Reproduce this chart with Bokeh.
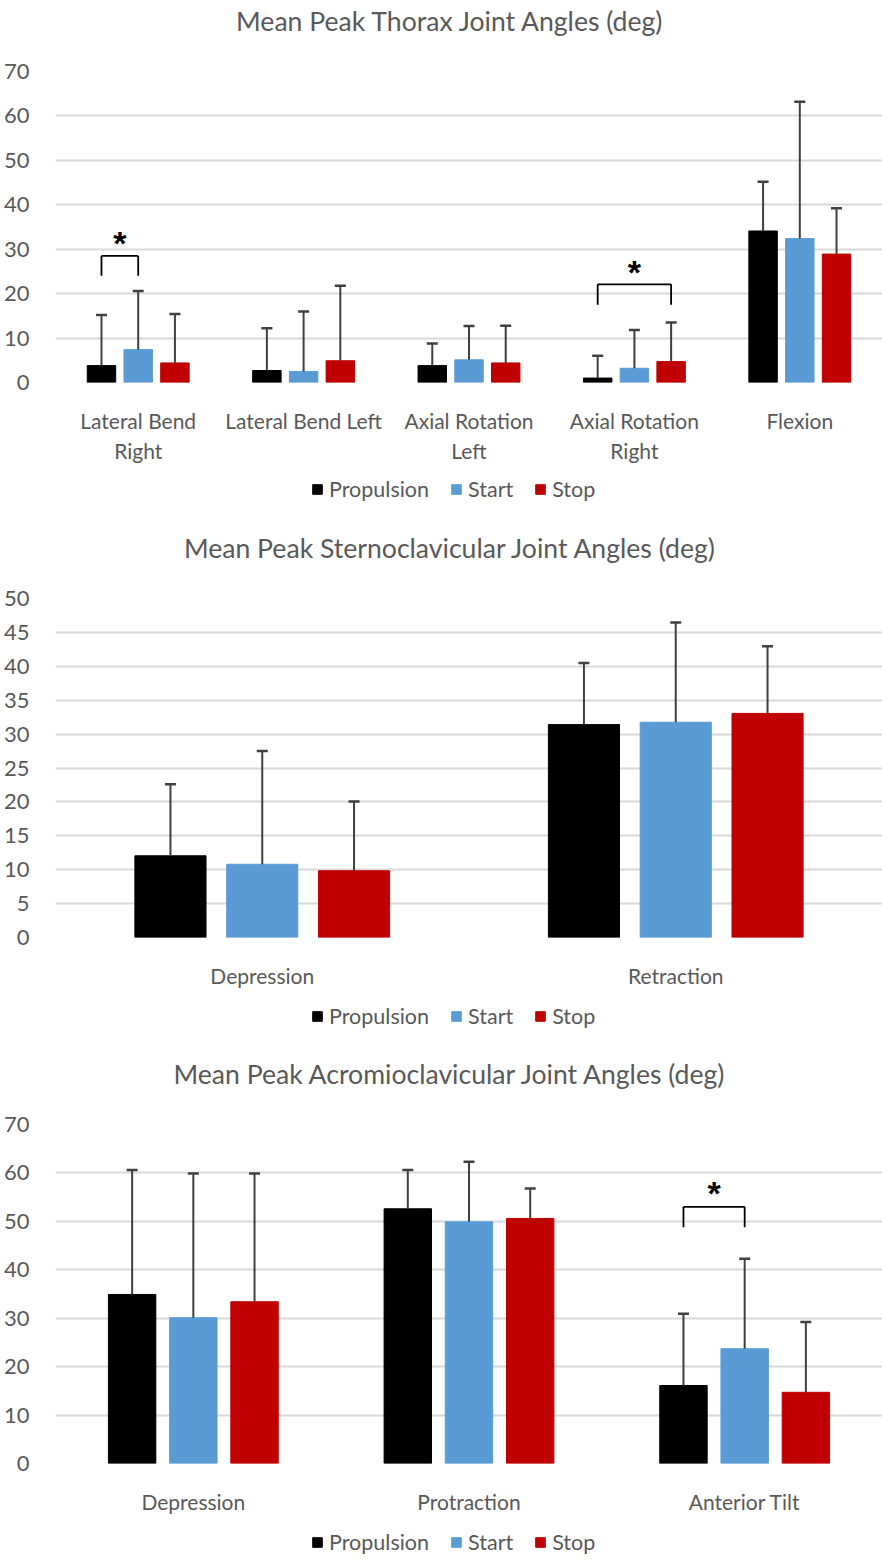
import numpy as np
from bokeh.plotting import figure
from bokeh.models import Range1d, FixedTicker, Legend, LegendItem, ColumnDataSource, Label
from bokeh.layouts import column
from bokeh.embed import file_html
from bokeh.resources import INLINE

# ---------------- data ----------------
series_names = ["Propulsion", "Start", "Stop"]
series_colors = ["#000000", "#5B9BD5", "#C00000"]

thorax_title = "Mean Peak Thorax Joint Angles (deg)"
thorax_categories = ["Lateral Bend\nRight", "Lateral Bend Left", "Axial Rotation\nLeft",
                     "Axial Rotation\nRight", "Flexion"]
thorax_propulsion = [3.8, 2.7, 3.8, 1.0, 34.1]
thorax_propulsion_sd = [11.4, 9.5, 5.0, 5.0, 11.1]
thorax_start = [7.4, 2.5, 5.1, 3.2, 32.4]
thorax_start_sd = [13.2, 13.5, 7.6, 8.6, 30.8]
thorax_stop = [4.4, 4.9, 4.4, 4.7, 28.9]
thorax_stop_sd = [11.0, 16.9, 8.4, 8.8, 10.3]
thorax_ticks = [0, 10, 20, 30, 40, 50, 60, 70]
thorax_sig_category = [0, 3]
thorax_sig_from = [0, 0]
thorax_sig_to = [1, 2]
thorax_sig_low = [24.0, 17.5]
thorax_sig_high = [28.5, 22.1]

sc_title = "Mean Peak Sternoclavicular Joint Angles (deg)"
sc_categories = ["Depression", "Retraction"]
sc_propulsion = [12.05, 31.4]
sc_propulsion_sd = [10.55, 9.1]
sc_start = [10.8, 31.75]
sc_start_sd = [16.7, 14.7]
sc_stop = [9.85, 33.05]
sc_stop_sd = [10.2, 9.9]
sc_ticks = [0, 5, 10, 15, 20, 25, 30, 35, 40, 45, 50]
sc_sig_category = []
sc_sig_from = []
sc_sig_to = []
sc_sig_low = []
sc_sig_high = []

ac_title = "Mean Peak Acromioclavicular Joint Angles (deg)"
ac_categories = ["Depression", "Protraction", "Anterior Tilt"]
ac_propulsion = [34.9, 52.6, 16.1]
ac_propulsion_sd = [25.7, 8.0, 14.8]
ac_start = [30.1, 49.9, 23.7]
ac_start_sd = [29.8, 12.4, 18.6]
ac_stop = [33.4, 50.6, 14.7]
ac_stop_sd = [26.5, 6.2, 14.5]
ac_ticks = [0, 10, 20, 30, 40, 50, 60, 70]
ac_sig_category = [2]
ac_sig_from = [0]
ac_sig_to = [1]
ac_sig_low = [48.8]
ac_sig_high = [53.0]

# ---------------- style ----------------
FONT = "Lato"
TEXT_COLOR = "#595959"
GRID_COLOR = "#D9D9D9"
ERR_COLOR = "#404040"
OFFSETS = [-0.222, 0.0, 0.222]
BAR_W = 0.172
FIG_W = 882


def blank_figure(height):
    p = figure(width=FIG_W, height=height, x_range=Range1d(0, 1), y_range=Range1d(0, 1),
               output_backend="svg", toolbar_location=None,
               x_axis_location=None, y_axis_location=None,
               min_border_left=0, min_border_right=0, min_border_top=0, min_border_bottom=0)
    p.grid.visible = False
    p.outline_line_color = None
    p.background_fill_color = "white"
    p.border_fill_color = "white"
    return p


def make_title(text, height, y):
    p = blank_figure(height)
    p.add_layout(Label(x=395, y=y, x_units="screen", y_units="screen", text=text,
                       text_align="center", text_baseline="middle",
                       text_font=FONT, text_font_size="26.6px", text_color=TEXT_COLOR))
    return p


def make_chart(cats, means, sds, ticks, sig, top, frame_h, bottom):
    n = len(cats)
    p = figure(width=FIG_W, height=top + frame_h + bottom,
               x_range=Range1d(-0.5, n - 0.5), y_range=Range1d(ticks[0], ticks[-1]),
               output_backend="svg", toolbar_location=None,
               min_border_left=52, min_border_right=0,
               min_border_top=top, min_border_bottom=bottom)
    p.outline_line_color = None
    p.background_fill_color = "white"
    p.border_fill_color = "white"

    p.xgrid.grid_line_color = None
    p.ygrid.grid_line_color = GRID_COLOR
    p.ygrid.grid_line_width = 2
    p.yaxis.ticker = FixedTicker(ticks=ticks)
    p.xaxis.ticker = FixedTicker(ticks=list(range(n)))
    p.xaxis.major_label_overrides = {i: c for i, c in enumerate(cats)}
    for ax in (p.xaxis[0], p.yaxis[0]):
        ax.axis_line_color = None
        ax.major_tick_line_color = None
        ax.minor_tick_line_color = None
        ax.major_label_text_font = FONT
        ax.major_label_text_color = TEXT_COLOR
    p.yaxis.major_label_text_font_size = "22px"
    p.xaxis.major_label_text_font_size = "21px"
    p.yaxis.major_label_standoff = 20
    p.xaxis.major_label_standoff = 19

    idx = np.arange(n)
    for k in range(3):
        xs = idx + OFFSETS[k]
        m = np.array(means[k], dtype=float)
        up = m + np.array(sds[k], dtype=float)
        src = ColumnDataSource(dict(x=xs, top=m, up=up))
        p.vbar(x="x", top="top", bottom=0, width=BAR_W, source=src,
               fill_color=series_colors[k], line_color=series_colors[k])
        p.segment(x0="x", y0="top", x1="x", y1="up", source=src,
                  line_color=ERR_COLOR, line_width=2)
        p.scatter(x="x", y="up", marker="dash", size=11, source=src,
                  line_color=ERR_COLOR, line_width=2.5)

    cat_s, fr, to, lo, hi = sig
    if cat_s:
        x0 = np.array([cat_s[i] + OFFSETS[fr[i]] for i in range(len(cat_s))])
        x1 = np.array([cat_s[i] + OFFSETS[to[i]] for i in range(len(cat_s))])
        lo = np.array(lo)
        hi = np.array(hi)
        p.segment(x0=x0, y0=lo, x1=x0, y1=hi, line_color="black", line_width=1.8)
        p.segment(x0=x1, y0=lo, x1=x1, y1=hi, line_color="black", line_width=1.8)
        p.segment(x0=x0, y0=hi, x1=x1, y1=hi, line_color="black", line_width=1.8)
        star_y = hi + (ticks[-1] - ticks[0]) * 0.04
        p.text(x=(x0 + x1) / 2, y=star_y, text=["*"] * len(cat_s),
               text_font_size="34px", text_font_style="bold", text_color="black",
               text_align="center", text_baseline="middle")
    return p


def make_legend(height, y):
    p = blank_figure(height)
    items = []
    for k in range(3):
        src = ColumnDataSource(dict(x=[np.nan], top=[np.nan]))
        r = p.vbar(x="x", top="top", bottom=0, width=0.1, source=src,
                   fill_color=series_colors[k], line_color=series_colors[k])
        items.append(LegendItem(label=series_names[k], renderers=[r]))
    legend = Legend(items=items, orientation="horizontal", location=(256, y),
                    label_text_font=FONT, label_text_font_size="21.5px",
                    label_text_color=TEXT_COLOR, glyph_width=12, glyph_height=12,
                    label_height=24, label_standoff=6, spacing=21, padding=0, margin=0,
                    border_line_color=None, background_fill_alpha=0)
    p.add_layout(legend)
    return p


t1 = make_title(thorax_title, 43, 23)
p1 = make_chart(thorax_categories,
                [thorax_propulsion, thorax_start, thorax_stop],
                [thorax_propulsion_sd, thorax_start_sd, thorax_stop_sd],
                thorax_ticks,
                (thorax_sig_category, thorax_sig_from, thorax_sig_to, thorax_sig_low, thorax_sig_high),
                top=28, frame_h=311, bottom=88)
l1 = make_legend(40, 8)
t2 = make_title(sc_title, 68, 31)
p2 = make_chart(sc_categories,
                [sc_propulsion, sc_start, sc_stop],
                [sc_propulsion_sd, sc_start_sd, sc_stop_sd],
                sc_ticks,
                (sc_sig_category, sc_sig_from, sc_sig_to, sc_sig_low, sc_sig_high),
                top=20, frame_h=339, bottom=60)
l2 = make_legend(40, 8)
t3 = make_title(ac_title, 67, 31)
p3 = make_chart(ac_categories,
                [ac_propulsion, ac_start, ac_stop],
                [ac_propulsion_sd, ac_start_sd, ac_stop_sd],
                ac_ticks,
                (ac_sig_category, ac_sig_from, ac_sig_to, ac_sig_low, ac_sig_high),
                top=20, frame_h=339, bottom=60)
l3 = make_legend(38, 6)

layout = column(t1, p1, l1, t2, p2, l2, t3, p3, l3, spacing=0)
open("out.html", "w").write(file_html(layout, INLINE))
